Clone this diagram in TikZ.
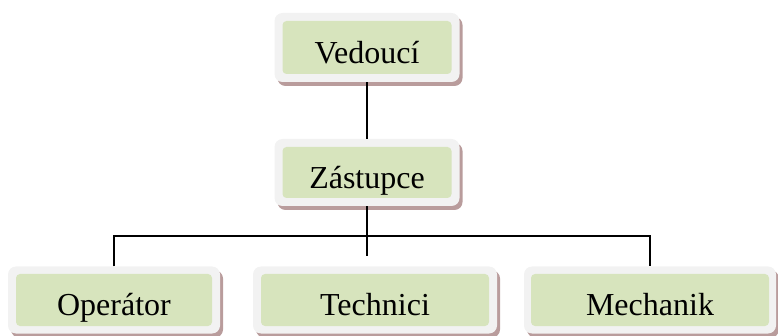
\documentclass[tikz,border=0pt]{standalone}
\usepackage{fontspec}
\setmainfont{Liberation Serif}
\usepackage{tikz}
\usetikzlibrary{calc,shadows}
\definecolor{boxgray}{HTML}{F2F2F2}
\definecolor{boxgreen}{HTML}{D7E4BD}
\definecolor{boxshadow}{HTML}{B99C9C}
\begin{document}
\begin{tikzpicture}[x=1pt,y=-1pt,
box/.style={rectangle,rounded corners=8pt,fill=boxgray,inner sep=0pt,
  minimum width=185pt,minimum height=67pt,
  drop shadow={shadow xshift=3pt,shadow yshift=-4pt,fill=boxshadow,opacity=1}},
lab/.style={rectangle,rounded corners=4pt,fill=boxgreen,inner sep=0pt,
  minimum width=169pt,minimum height=52pt,text height=34pt,text depth=2pt,
  font=\fontsize{32}{36}\selectfont},
conn/.style={line width=1.6pt}]
\useasboundingbox (0,0) rectangle (778,336);

\node (ved) at (367,47.5) [box,minimum height=69pt] {};
\node (vedt) at (ved) [lab,minimum height=53pt] {Vedoucí};
\node (zast) at (367,172.5) [box] {};
\node (zastt) at (zast) [lab,minimum height=51pt] {Zástupce};
\node (oper) at (114,300) [box,minimum width=212pt] {};
\node (opert) at (oper) [lab,minimum width=196pt] {Operátor};
\node (tech) at (375,300) [box,minimum width=244pt] {};
\node (techt) at (tech) [lab,minimum width=228pt] {Technici};
\node (mech) at (650,300) [box,minimum width=252pt] {};
\node (mecht) at (mech) [lab,minimum width=238pt] {Mechanik};

\coordinate (bus) at ([yshift=-30pt]zast.south);

\draw[conn] (ved) -- (zast);
\draw[conn] (zast) -- ([yshift=10pt]tech.north -| zast);
\draw[conn] (oper) |- (bus) -| (mech);

\end{tikzpicture}
\end{document}
